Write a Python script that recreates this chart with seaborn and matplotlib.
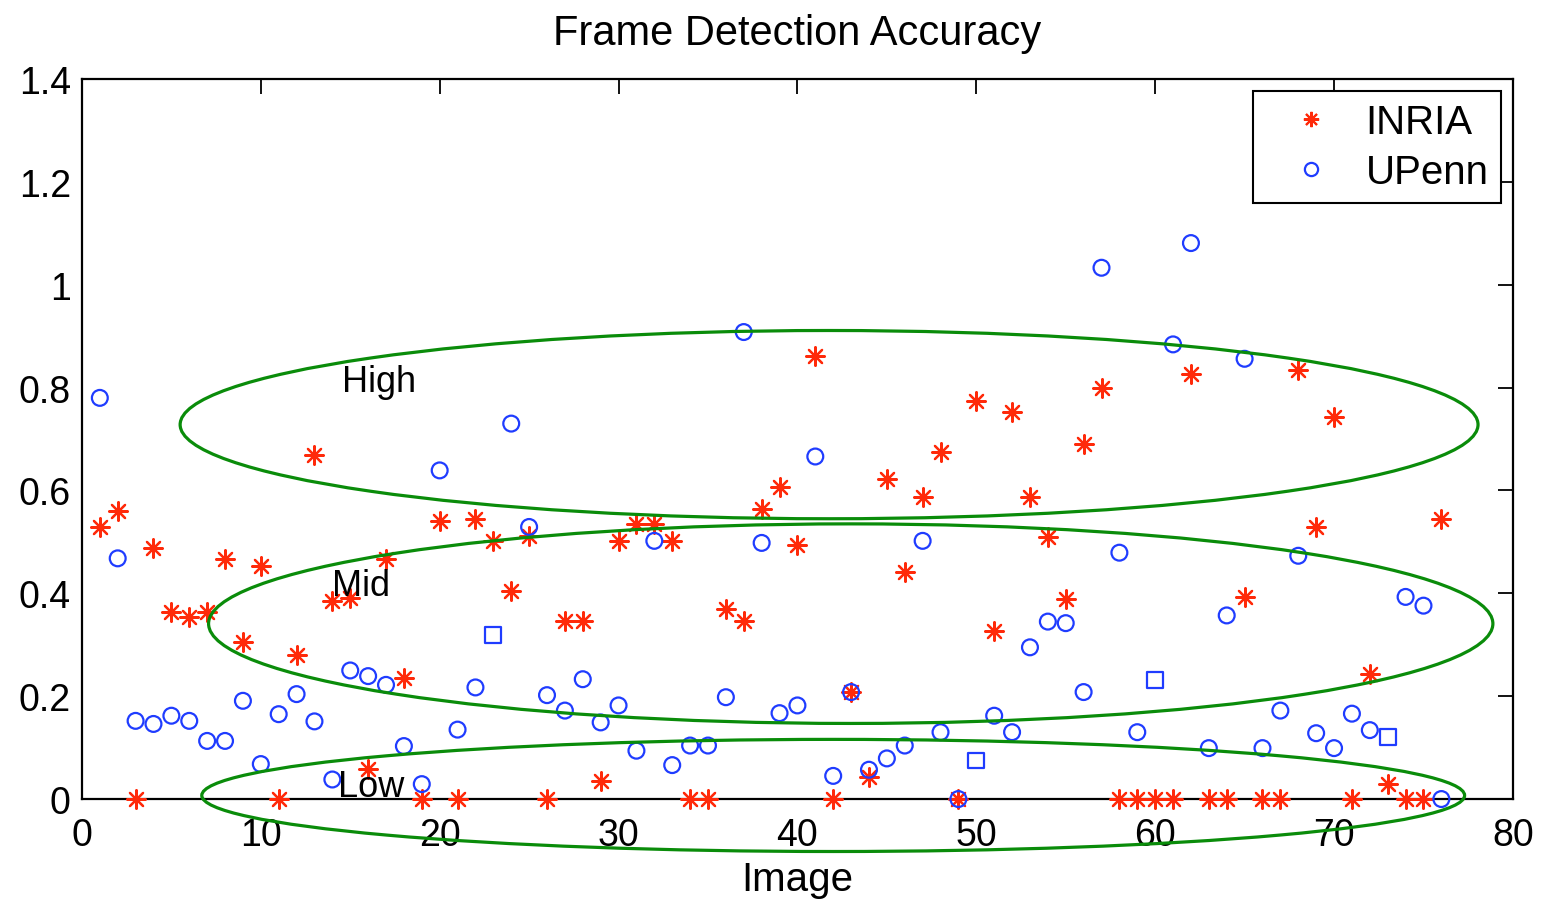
import numpy as np
import pandas as pd
import matplotlib
matplotlib.use("Agg")
import matplotlib.pyplot as plt
import seaborn as sns
from matplotlib.patches import Ellipse
from matplotlib.lines import Line2D

# ---------------- data ----------------
images = list(range(1, 77))
inria = [0.528, 0.560, 0.000, 0.488, 0.363, 0.353, 0.363, 0.467, 0.306, 0.453,
         0.000, 0.280, 0.669, 0.385, 0.390, 0.058, 0.467, 0.235, 0.000, 0.540,
         0.000, 0.545, 0.502, 0.405, 0.511, 0.000, 0.346, 0.346, 0.036, 0.502,
         0.535, 0.535, 0.502, 0.000, 0.000, 0.370, 0.347, 0.564, 0.606, 0.493,
         0.862, 0.000, 0.208, 0.042, 0.623, 0.441, 0.587, 0.675, 0.000, 0.773,
         0.327, 0.752, 0.587, 0.509, 0.389, 0.691, 0.800, 0.000, 0.000, 0.000,
         0.000, 0.826, 0.000, 0.000, 0.393, 0.000, 0.000, 0.835, 0.529, 0.742,
         0.000, 0.244, 0.029, 0.000, 0.000, 0.545]
upenn = [0.780, 0.468, 0.152, 0.146, 0.162, 0.152, 0.113, 0.113, 0.191, 0.068,
         0.165, 0.204, 0.151, 0.038, 0.250, 0.239, 0.222, 0.103, 0.029, 0.639,
         0.135, 0.217, 0.319, 0.730, 0.529, 0.202, 0.172, 0.233, 0.149, 0.182,
         0.094, 0.502, 0.066, 0.104, 0.104, 0.198, 0.908, 0.498, 0.167, 0.182,
         0.666, 0.045, 0.208, 0.057, 0.079, 0.104, 0.502, 0.130, 0.000, 0.075,
         0.162, 0.130, 0.295, 0.345, 0.342, 0.208, 1.033, 0.479, 0.130, 0.231,
         0.884, 1.081, 0.099, 0.357, 0.856, 0.099, 0.172, 0.473, 0.128, 0.099,
         0.166, 0.134, 0.121, 0.393, 0.376, 0.000]
square_images = [23, 50, 60, 73]

series_names = ["INRIA", "UPenn"]
title_text = "Frame Detection Accuracy"
xlabel_text = "Image"
xticks = [0, 10, 20, 30, 40, 50, 60, 70, 80]
yticks = [0, 0.2, 0.4, 0.6, 0.8, 1.0, 1.2, 1.4]
ytick_labels = ["0", "0.2", "0.4", "0.6", "0.8", "1", "1.2", "1.4"]

region_labels = ["High", "Mid", "Low"]
region_label_x = [14.55, 14.0, 14.3]
region_label_y = [0.811, 0.416, 0.025]
ellipse_cx = [41.77, 42.98, 42.0]
ellipse_cy = [0.728, 0.341, 0.007]
ellipse_halfw = [36.28, 35.9, 35.3]
ellipse_halfh = [0.183, 0.194, 0.109]

# ---------------- style ----------------
RED = "#ff2a0a"
BLUE = "#1f3cff"
GREEN = "#0a8c0a"

sns.set_style("white")
plt.rcParams["font.family"] = ["Liberation Sans", "DejaVu Sans"]
plt.rcParams["text.color"] = "black"
plt.rcParams["axes.labelcolor"] = "black"

fig = plt.figure(figsize=(15.43, 9.04), dpi=100)
ax = fig.add_axes([0.0531, 0.1150, 0.9274, 0.7965])

df_inria = pd.DataFrame({"image": images, "acc": inria})
df_up = pd.DataFrame({"image": images, "acc": upenn})
df_up["square"] = df_up["image"].isin(square_images)

sns.scatterplot(data=df_inria, x="image", y="acc", marker=(8, 2, 0), color=RED,
                s=180, linewidth=1.6, ax=ax, legend=False, clip_on=False, zorder=3)
sns.scatterplot(data=df_up[~df_up["square"]], x="image", y="acc", marker="o",
                facecolors="none", edgecolors=BLUE, s=130, linewidth=1.6,
                ax=ax, legend=False, clip_on=False, zorder=3)
sns.scatterplot(data=df_up[df_up["square"]], x="image", y="acc", marker="s",
                facecolors="none", edgecolors=BLUE, s=130, linewidth=1.6,
                ax=ax, legend=False, clip_on=False, zorder=3)

for cx, cy, hw, hh in zip(ellipse_cx, ellipse_cy, ellipse_halfw, ellipse_halfh):
    ax.add_patch(Ellipse((cx, cy), 2 * hw, 2 * hh, fill=False, edgecolor=GREEN,
                         linewidth=2.3, clip_on=False, zorder=4))

for lab, tx, ty in zip(region_labels, region_label_x, region_label_y):
    ax.text(tx, ty, lab, fontsize=26, ha="left", va="center", color="black", zorder=5)

ax.set_xlim(0, 80)
ax.set_ylim(0, 1.4)
ax.set_xticks(xticks)
ax.set_xticklabels([str(t) for t in xticks])
ax.set_yticks(yticks)
ax.set_yticklabels(ytick_labels)
ax.tick_params(direction="in", length=11, width=1.3, top=True, right=True,
               labelsize=27, colors="black")
ax.tick_params(axis="x", pad=13)
ax.tick_params(axis="y", pad=8)
for sp in ax.spines.values():
    sp.set_linewidth(1.6)
    sp.set_color("black")
    sp.set_visible(True)

ax.set_xlabel(xlabel_text, fontsize=29, labelpad=5, color="black")
ax.set_ylabel("")
ax.set_title(title_text, fontsize=30, pad=25, color="black")

handles = [
    Line2D([], [], marker=(8, 2, 0), ls="none", color=RED, ms=11, mew=1.5),
    Line2D([], [], marker="o", ls="none", mfc="none", mec=BLUE, ms=9.5, mew=1.6),
]
leg = ax.legend(handles, series_names, loc="upper right", fontsize=29,
                frameon=True, fancybox=False, edgecolor="black", framealpha=1,
                borderaxespad=0.3, borderpad=0.3, handlelength=2.3,
                handletextpad=0.2, labelspacing=0.3)
leg.get_frame().set_linewidth(1.5)
for t in leg.get_texts():
    t.set_color("black")

fig.savefig("out.png", dpi=100)
